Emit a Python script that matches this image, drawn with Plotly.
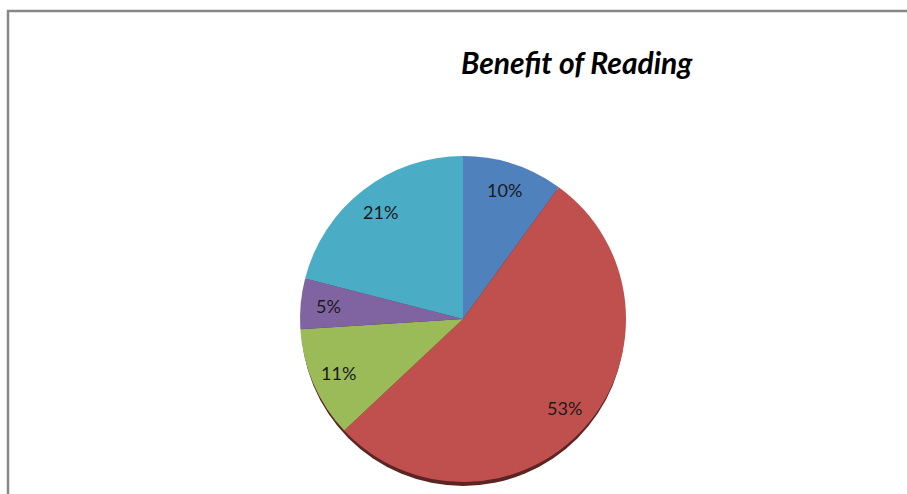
import math
import plotly.graph_objects as go

categories = ["Category 1", "Category 2", "Category 3", "Category 4", "Category 5"]
values = [10, 53, 11, 5, 21]
colors = ["#4F81BD", "#C0504D", "#9BBB59", "#8064A2", "#4BACC6"]

W, H = 907, 494
cx, cy, r = 463, 319, 163

def px(x):
    return x / W

def py(y):
    return 1 - y / H

fig = go.Figure(go.Pie(
    labels=categories,
    values=values,
    sort=False,
    direction="clockwise",
    rotation=0,
    marker=dict(colors=colors, line=dict(width=0)),
    textinfo="none",
    showlegend=False,
    hoverinfo="label+percent",
    domain=dict(x=[px(cx - r), px(cx + r)], y=[py(cy + r), py(cy - r)]),
))

# soft shadow under the pie
fig.add_shape(type="circle", xref="paper", yref="paper",
              x0=px(cx - r + 1), x1=px(cx + r - 1), y0=py(cy + r + 4), y1=py(cy - r + 4),
              line=dict(width=0), fillcolor="#5b2523", layer="below")

# percentage labels placed along slice mid-angles
total = sum(values)
cum = 0
for v in values:
    mid = (cum + v / 2) / total * 2 * math.pi
    cum += v
    lx = cx + 0.83 * r * math.sin(mid)
    ly = cy - 0.83 * r * math.cos(mid)
    fig.add_annotation(text=f"{round(v / total * 100)}%", xref="paper", yref="paper",
                       x=px(lx), y=py(ly), showarrow=False, xanchor="center", yanchor="middle",
                       font=dict(family="Lato, Open Sans, sans-serif", size=18, color="#1a1a1a"))

fig.add_shape(type="rect", xref="paper", yref="paper",
              x0=px(8), x1=1.05, y0=-0.05, y1=py(11),
              line=dict(color="#878787", width=2.5), fillcolor="rgba(0,0,0,0)", layer="below")

fig.add_annotation(text="<b><i>Benefit of Reading</i></b>", xref="paper", yref="paper",
                   x=px(577), y=py(62), showarrow=False, xanchor="center", yanchor="middle",
                   font=dict(family="Lato, Open Sans, sans-serif", size=30, color="#000000"))

fig.update_layout(width=W, height=H, margin=dict(l=0, r=0, t=0, b=0),
                  paper_bgcolor="white", plot_bgcolor="white")

fig.write_html("out.html", config={"displayModeBar": False},
               post_script="document.body.style.margin='0px';document.body.style.overflow='hidden';")
